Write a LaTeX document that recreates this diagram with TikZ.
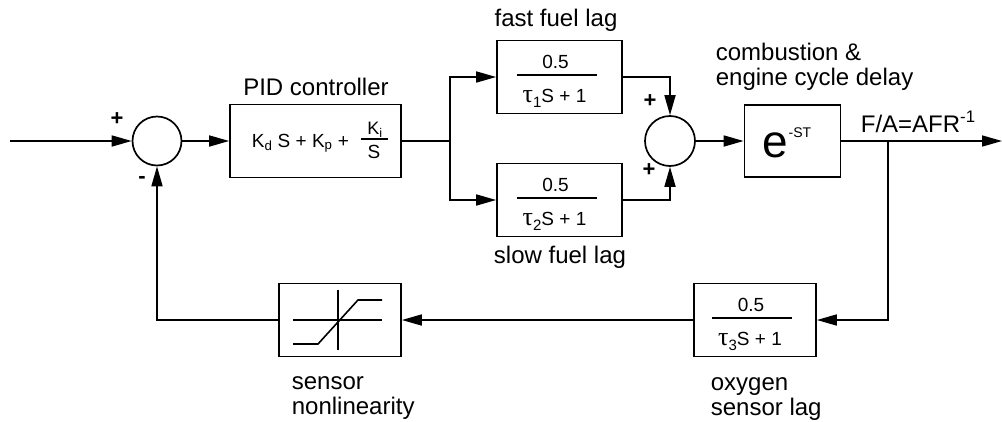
\documentclass[tikz,border=0pt]{standalone}
\usepackage{fontspec}
\setmainfont{Liberation Sans}
\newfontfamily\grk{Liberation Serif}
\usetikzlibrary{arrows.meta}
\tikzset{
  arr/.style={-{Triangle[length=20pt,width=11pt]}},
  blk/.style={draw, rectangle, inner sep=0pt},
  sumc/.style={draw, circle, minimum size=49pt, inner sep=0pt},
  lbl/.style={font=\fontsize{24}{25}\selectfont, inner sep=0pt, align=left},
  sgn/.style={font=\fontsize{22}{22}\selectfont\bfseries, inner sep=0pt},
  num/.style={font=\fontsize{19}{19}\selectfont, inner sep=0pt},
  bar/.style={line width=1.4pt},
}
\newcommand\lagblk[4]{%
  \node[blk, minimum width=#4pt, minimum height=73pt] (#1) at (#2) {};
  \node[num] (#1n) at ([shift={(-4,-15)}]#1.center) {0.5};
  \draw[bar] ([shift={(-43,-2)}]#1.center) -- ([shift={(37,-2)}]#1.center);
  \node[num, anchor=base] (#1d) at ([shift={(-5,25)}]#1.center)
    {{\grk\fontsize{26}{26}\selectfont τ}\raisebox{-5pt}{\fontsize{15}{15}\selectfont #3}S + 1};
}
\begin{document}
\begin{tikzpicture}[x=1pt,y=-1pt,line width=1.7pt]
\useasboundingbox (0,0) rectangle (1002,421);

% main blocks
\node[sumc] (s1) at (157,141) {};
\node[blk, minimum width=171pt, minimum height=73pt] (pid) at (315.5,141) {};
\lagblk{fast}{559.5,77}{1}{125}
\lagblk{slow}{559.5,200}{2}{125}
\node[sumc, minimum size=50pt] (s2) at (670,141) {};
\node[blk, minimum width=96pt, minimum height=72pt] (delay) at (792.5,141) {};
\lagblk{oxy}{755,320}{3}{122}
\node[blk, minimum width=122pt, minimum height=73pt] (sens) at (340,320) {};

% PID contents
\node[inner sep=0pt, anchor=base west, font=\fontsize{19}{19}\selectfont] (pidt) at (251,147)
  {K\textsubscript{d} S + K\textsubscript{p} +};
\node[inner sep=0pt, font=\fontsize{18}{18}\selectfont] (pidki) at (375,130) {K\textsubscript{i}};
\draw[bar] (361,139) -- (388,139);
\node[inner sep=0pt, font=\fontsize{19}{19}\selectfont] (pids) at (374,152) {S};

% delay contents
\node[inner sep=0pt, font=\fontsize{46}{46}\selectfont] (de) at (775,145) {e};
\node[inner sep=0pt, font=\fontsize{14}{14}\selectfont] (dsup) at (800,133) {-ST};

% sensor nonlinearity symbol
\draw[line width=1.6pt] (293,320) -- (382,320);
\draw[line width=1.6pt] (338,290) -- (338,350);
\draw[line width=1.6pt] (293,344) -- (318,344) -- (358,300) -- (382,300);

% coordinates
\coordinate (in) at (10,141);
\coordinate (split) at (450,141);
\coordinate (tap) at (888,141);
\coordinate (out) at (1002,141);

% connectors
\draw[arr] (in) -- (s1);
\draw[arr] (s1) -- (pid);
\draw (pid.east) -- (split);
\draw[arr] (split) |- (fast.west);
\draw[arr] (split) |- (slow.west);
\draw[arr] (fast.east) -| (s2.north);
\draw[arr] (slow.east) -| (s2.south);
\draw[arr] (s2) -- (delay);
\draw[arr] (delay) -- (out);
\draw[arr] (tap) |- (oxy.east);
\draw[arr] (oxy.west) -- (sens.east);
\draw[arr] (sens.west) -| (s1.south);

% signs
\node[sgn] (p1) at (117,119) {+};
\node[sgn] (m1) at (142,180) {-};
\node[sgn] (p2) at (650,101) {+};
\node[sgn] (p3) at (649,170) {+};

% labels
\node[lbl, anchor=base] (lpid) at (316,95) {PID controller};
\node[lbl, anchor=base] (lfast) at (556,26) {fast fuel lag};
\node[lbl, anchor=base] (lslow) at (560,263) {slow fuel lag};
\node[lbl, anchor=base west] (ldelay) at (715,85) {combustion \&\\engine cycle delay};
\node[lbl, anchor=base west] (lfa) at (860,132) {F/A=AFR\textsuperscript{-1}};
\node[lbl, anchor=base west] (loxy) at (710,415) {oxygen\\sensor lag};
\node[lbl, anchor=base west] (lsens) at (291,414) {sensor\\nonlinearity};
\end{tikzpicture}
\end{document}
